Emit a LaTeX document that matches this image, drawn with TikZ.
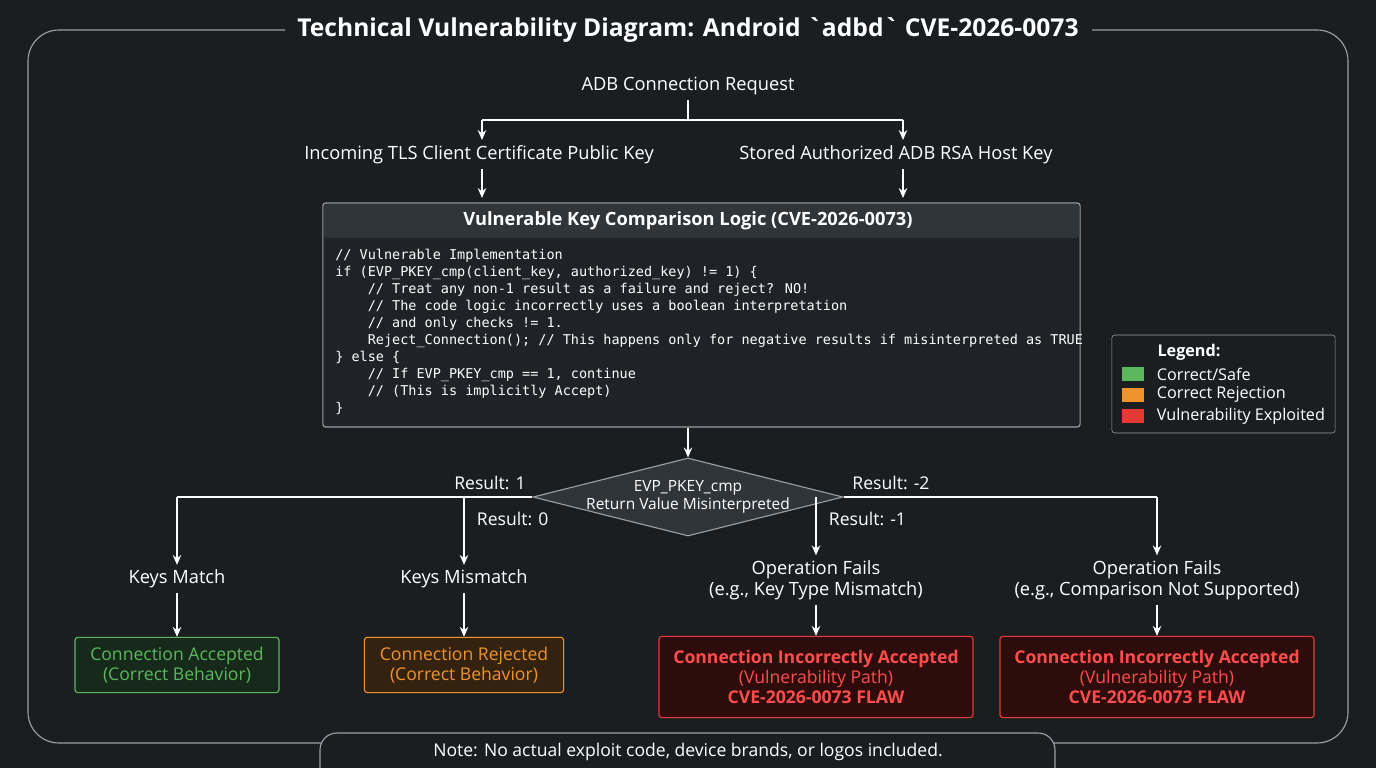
\documentclass[tikz,border=0pt]{standalone}
\usepackage{fontspec}
\setmainfont{Open Sans}
\newfontfamily\codefont{DejaVu Sans Mono}
\usetikzlibrary{shapes.geometric}
\usetikzlibrary{positioning}
\usetikzlibrary{arrows.meta}
\definecolor{bgdark}{HTML}{1B1E21}
\definecolor{framegray}{HTML}{9AA0A6}
\definecolor{codebg}{HTML}{1F2327}
\definecolor{headbg}{HTML}{30353A}
\definecolor{okgreen}{HTML}{5CB85C}
\definecolor{okfill}{HTML}{16291B}
\definecolor{rejorange}{HTML}{F0932B}
\definecolor{rejfill}{HTML}{33220F}
\definecolor{badred}{HTML}{E53935}
\definecolor{badtext}{HTML}{FF4D4D}
\definecolor{badfill}{HTML}{2E0C0C}
\tikzset{
    lbl/.style = {text=white,font=\fontsize{13}{15}\selectfont,align=center},
    res/.style = {text=white,font=\fontsize{12.5}{15}\selectfont},
    outbox/.style = {rounded corners=2pt, thick, align=center, font=\fontsize{12.5}{14.5}\selectfont},
    okbox/.style = {outbox, draw=okgreen, fill=okfill, text=okgreen, minimum width=5.1cm, minimum height=1.38cm},
    rejbox/.style = {outbox, draw=rejorange, fill=rejfill, text=rejorange, minimum width=4.98cm, minimum height=1.38cm},
    badbox/.style = {outbox, draw=badred, fill=badfill, text=badtext, minimum width=7.85cm, minimum height=2.03cm},
    flow/.style = {-{Stealth[length=7pt,width=6pt]}, very thick, white},
    wire/.style = {-, very thick, white},
    swatch/.style = {minimum width=0.55cm, minimum height=0.35cm, inner sep=0pt}
}
\begin{document}
\begin{tikzpicture}[x=0.025cm,y=-0.025cm]
\fill[bgdark] (0,0) rectangle (1376,768);
\useasboundingbox (0,0) rectangle (1376,768);
% frame and title
\draw[framegray, thick, rounded corners=22pt] (285,30) -- (28,30) -- (28,743) -- (1348,743) -- (1348,30) -- (1092,30);
\node[text=white, font=\fontsize{17.5}{20}\selectfont\bfseries] (title) at (688,30) {Technical Vulnerability Diagram: Android \textasciigrave adbd\textasciigrave{} CVE-2026-0073};
% inputs
\node[lbl] (req) at (688,86) {ADB Connection Request};
\node[lbl] (tls) at (479,155) {Incoming TLS Client Certificate Public Key};
\node[lbl] (stored) at (896,155) {Stored Authorized ADB RSA Host Key};
\coordinate (split) at (688,120);
\coordinate (splitL) at (482,120);
\coordinate (splitR) at (903,120);
\draw[wire] (req.south) -- (split);
\draw[wire] (splitL) -- (splitR);
\draw[flow] (splitL) -- (482,140);
\draw[flow] (splitR) -- (903,140);
% code box
\node[draw=framegray, thick, fill=codebg, rounded corners=2pt, minimum width=18.925cm, minimum height=5.6cm] (logic) at (701.5,315) {};
\fill[headbg, rounded corners=2pt] (324,204) rectangle (1079,238);
\node[text=white, font=\fontsize{13}{15}\selectfont\bfseries] (logichead) at (688,221) {Vulnerable Key Comparison Logic (CVE-2026-0073)};
\node[anchor=north west, text=white, align=left, inner sep=0pt, font=\codefont\fontsize{9.6}{12.05}\selectfont] (code) at (335,249) {%
// Vulnerable Implementation\\
if (EVP\_PKEY\_cmp(client\_key, authorized\_key) != 1) \{\\
\ \ \ \ // Treat any non-1 result as a failure and reject? NO!\\
\ \ \ \ // The code logic incorrectly uses a boolean interpretation\\
\ \ \ \ // and only checks != 1.\\
\ \ \ \ Reject\_Connection(); // This happens only for negative results if misinterpreted as TRUE\\
\} else \{\\
\ \ \ \ // If EVP\_PKEY\_cmp == 1, continue\\
\ \ \ \ // (This is implicitly Accept)\\
\}};
\draw[flow] (tls.south -| splitL) -- (482,198);
\draw[flow] (stored.south -| splitR) -- (903,198);
% decision
\node[diamond, draw=framegray, thick, fill=headbg, minimum width=7.75cm, minimum height=1.95cm, inner sep=0pt] (cmp) at (688,497) {};
\node[text=white, align=center, font=\fontsize{11}{13}\selectfont] (cmptext) at (cmp.center) {EVP\_PKEY\_cmp\\Return Value Misinterpreted};
\draw[flow] (logic.south -| cmp) -- (cmp.north);
% outcomes
\node[lbl] (match) at (177,579) {Keys Match};
\node[lbl] (mismatch) at (464,579) {Keys Mismatch};
\node[lbl] (fail1) at (816,580) {Operation Fails\\(e.g., Key Type Mismatch)};
\node[lbl] (fail2) at (1157,580) {Operation Fails\\(e.g., Comparison Not Supported)};
\draw[wire] (cmp.west) -- (177,497);
\draw[flow] (177,497) -- (match.north);
\draw[wire] (cmp.east) -- (1157,497);
\draw[flow] (1157,497) -- (fail2.north);
\draw[flow] (464,497) -- (mismatch.north);
\draw[flow] (816,497) -- (fail1.north);
\node[res, anchor=south] (r1) at (490,495) {Result: 1};
\node[res, anchor=west] (r0) at (472,519) {Result: 0};
\node[res, anchor=west] (rm1) at (824,519) {Result: -1};
\node[res, anchor=south] (rm2) at (891,495) {Result: -2};
\node[okbox] (acc) at (177,665) {Connection Accepted\\(Correct Behavior)};
\node[rejbox] (rej) at (464,665) {Connection Rejected\\(Correct Behavior)};
\node[badbox] (bad1) at (816,677) {\textbf{Connection Incorrectly Accepted}\\(Vulnerability Path)\\\textbf{CVE-2026-0073 FLAW}};
\node[badbox] (bad2) at (1157,677) {\textbf{Connection Incorrectly Accepted}\\(Vulnerability Path)\\\textbf{CVE-2026-0073 FLAW}};
\draw[flow] (match) -- (acc);
\draw[flow] (mismatch) -- (rej);
\draw[flow] (fail1) -- (bad1);
\draw[flow] (fail2) -- (bad2);
% legend
\node[draw=framegray, fill=bgdark, rounded corners=2pt, minimum width=5.58cm, minimum height=2.45cm] (legend) at (1223.5,384) {};
\node[text=white, font=\fontsize{11.5}{13}\selectfont\bfseries] (leghead) at (1189,352) {Legend:};
\foreach \c/\t [count=\i] in {okgreen/{Correct/Safe}, rejorange/{Correct Rejection}, badred/{Vulnerability Exploited}} {
  \node[swatch, fill=\c] (sw\i) at (1133,353+21*\i) {};
  \node[anchor=west, text=white, font=\fontsize{11.5}{13}\selectfont] (lt\i) at (1152,353+21*\i) {\t};
}
% note
\draw[framegray, thick, fill=bgdark, rounded corners=12pt] (320,790) -- (320,733) -- (1055,733) -- (1055,790);
\node[text=white, font=\fontsize{12.5}{14}\selectfont] (note) at (688,752) {Note: No actual exploit code, device brands, or logos included.};
\end{tikzpicture}
\end{document}
